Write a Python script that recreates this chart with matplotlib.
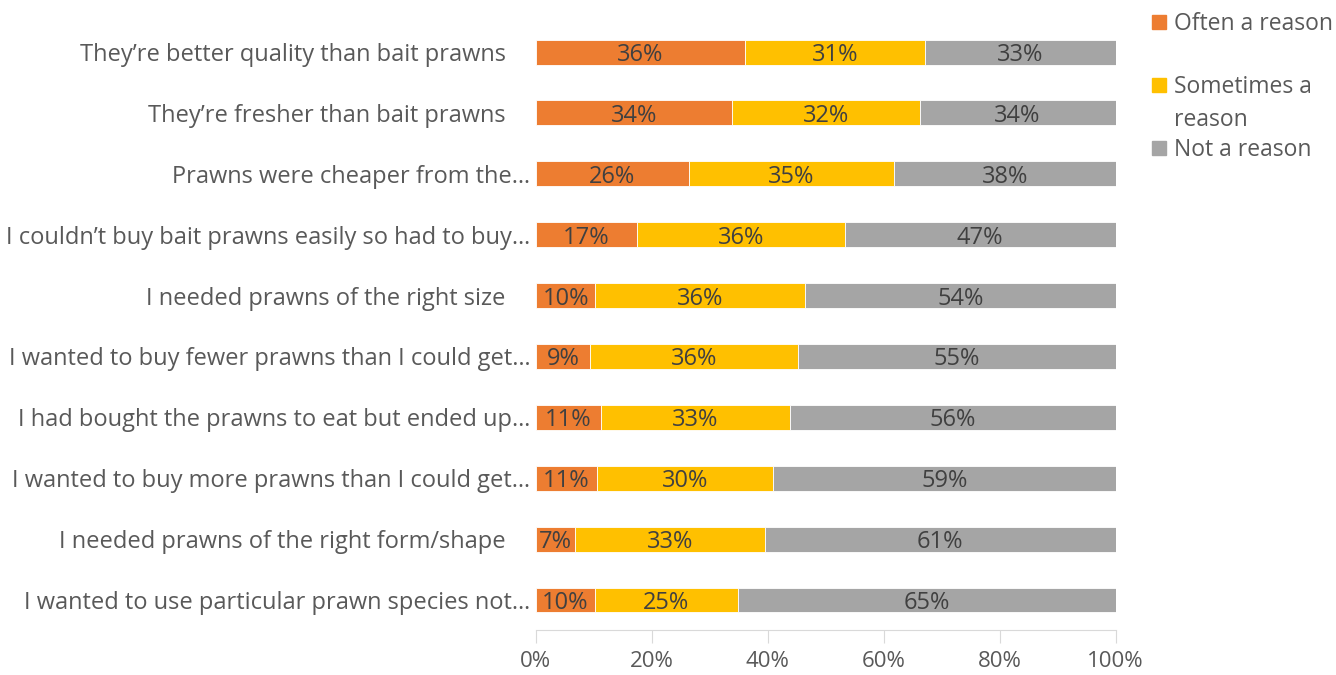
import numpy as np
import matplotlib.pyplot as plt
from matplotlib.patches import Rectangle
from matplotlib.ticker import PercentFormatter

plt.rcParams['font.family'] = ['Open Sans', 'DejaVu Sans']

reasons = [
    "They\u2019re better quality than bait prawns    ",
    "They\u2019re fresher than bait prawns    ",
    "Prawns were cheaper from the\u2026",
    "I couldn\u2019t buy bait prawns easily so had to buy\u2026",
    "I needed prawns of the right size    ",
    "I wanted to buy fewer prawns than I could get\u2026",
    "I had bought the prawns to eat but ended up\u2026",
    "I wanted to buy more prawns than I could get\u2026",
    "I needed prawns of the right form/shape    ",
    "I wanted to use particular prawn species not\u2026",
]
often = [36.1, 33.8, 26.4, 17.4, 10.3, 9.4, 11.2, 10.6, 6.8, 10.2]
sometimes = [31.1, 32.4, 35.4, 35.9, 36.2, 35.9, 32.6, 30.4, 32.7, 24.7]
not_reason = [32.8, 33.8, 38.2, 46.7, 53.5, 54.7, 56.2, 59.0, 60.6, 65.1]
series_names = ["Often a reason", "Sometimes a\nreason", "Not a reason"]
colors = ["#ED7D31", "#FFC000", "#A5A5A5"]

W, H = 1336, 675
fig = plt.figure(figsize=(W / 100, H / 100), dpi=100)
ax = fig.add_axes([0.401, 0.066, 0.434, 0.902])

y = np.arange(len(reasons))
left = np.zeros(len(reasons))
for vals, name, col in zip([often, sometimes, not_reason], series_names, colors):
    vals = np.array(vals)
    bars = ax.barh(y, vals, left=left, height=0.41, color=col,
                   edgecolor='white', linewidth=0.6)
    txts = ax.bar_label(bars, labels=[f"{int(v + 0.5)}%" for v in vals],
                        label_type='center', color='#404040', fontsize=17)
    for t in txts:
        t.set_va('center_baseline')
    left += vals

ax.set_ylim(len(reasons) - 0.5, -0.5)
ax.set_xlim(0, 100)
ax.set_yticks(y)
ax.set_yticklabels(reasons, fontsize=17, color='#595959')
ax.set_xticks(np.arange(0, 101, 20))
ax.xaxis.set_major_formatter(PercentFormatter(decimals=0))
ax.tick_params(axis='x', labelsize=16, labelcolor='#595959', length=9,
               color='#D9D9D9', pad=6)
ax.tick_params(axis='y', length=0, pad=4)
for s in ['top', 'right', 'left']:
    ax.spines[s].set_visible(False)
ax.spines['bottom'].set_color('#D9D9D9')

# legend, Excel style: marker next to the first line of each entry
marker_y = [22, 85, 148]
last_line_y = [22, 117, 148]
for name, col, ym, yt in zip(series_names, colors, marker_y, last_line_y):
    fig.add_artist(Rectangle((1152 / W, 1 - (ym + 7) / H), 14 / W, 14 / H,
                             transform=fig.transFigure, color=col))
    fig.text(1174 / W, 1 - (yt + 8.5) / H, name, fontsize=16.5, color='#595959',
             va='baseline', ha='left', linespacing=1.46)

fig.savefig('out.png', dpi=100)
